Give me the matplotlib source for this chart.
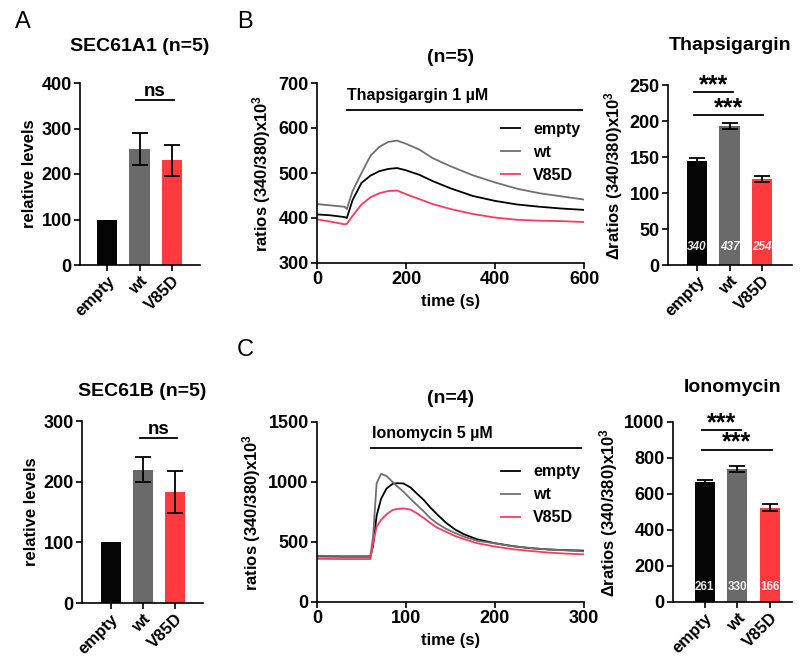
import matplotlib
matplotlib.use('Agg')
import matplotlib.pyplot as plt

plt.rcParams['font.family'] = ['Liberation Sans', 'DejaVu Sans']
plt.rcParams['font.weight'] = 'bold'
plt.rcParams['axes.labelweight'] = 'bold'
plt.rcParams['mathtext.fontset'] = 'custom'
plt.rcParams['mathtext.rm'] = 'Liberation Sans:bold'
plt.rcParams['mathtext.bf'] = 'Liberation Sans:bold'
plt.rcParams['mathtext.default'] = 'bf'

groups = ['empty', 'wt', 'V85D']
bar_colors = ['#050505', '#6a6a6a', '#ff3a3f']
trace_colors = ['#000000', '#707070', '#ff3a5c']

# SEC61A1 / SEC61B relative levels (empty = 100, no error)
sec61a1_mean = [100, 255, 230]
sec61a1_err = [0, 36, 34]
sec61b_mean = [100, 220, 183]
sec61b_err = [0, 21, 35]

# thapsigargin traces
t_tg = [0, 30, 62, 67, 80, 100, 120, 140, 160, 180, 200, 230, 260, 300, 350, 400, 450, 500, 550, 600]
tg_empty = [408, 406, 402, 400, 440, 478, 494, 504, 509, 511, 506, 496, 482, 466, 449, 438, 430, 425, 421, 418]
tg_wt = [431, 428, 425, 420, 460, 500, 538, 558, 569, 572, 565, 552, 533, 515, 495, 479, 465, 455, 448, 441]
tg_v85d = [397, 392, 386, 387, 405, 430, 446, 455, 460, 461, 453, 442, 431, 420, 409, 401, 396, 394, 393, 391]

# ionomycin traces
t_io = [0, 30, 60, 63, 67, 72, 78, 85, 90, 97, 105, 112, 120, 127, 135, 145, 155, 165, 180, 200, 220, 240, 260, 280, 300]
io_empty = [380, 378, 378, 470, 720, 860, 945, 985, 990, 988, 955, 905, 850, 790, 730, 660, 605, 565, 522, 490, 465, 448, 438, 432, 428]
io_wt = [385, 383, 383, 545, 990, 1068, 1050, 1000, 965, 920, 860, 810, 755, 700, 655, 610, 575, 545, 510, 488, 465, 450, 438, 430, 422]
io_v85d = [360, 358, 358, 490, 628, 684, 730, 767, 775, 780, 770, 740, 700, 660, 620, 585, 550, 525, 490, 462, 440, 425, 412, 403, 397]

# delta ratios (bar charts)
tg_delta = [145, 193, 119]
tg_delta_err = [3, 4, 4]
tg_cells = ['340', '437', '254']
io_delta = [665, 740, 525]
io_delta_err = [12, 15, 20]
io_cells = ['261', '330', '166']

W, H = 800, 657
fig = plt.figure(figsize=(W / 100, H / 100), dpi=100)


def new_axes(left, right, top, bottom):
    ax = fig.add_axes([left / W, 1 - bottom / H, (right - left) / W, (bottom - top) / H])
    ax.spines['top'].set_visible(False)
    ax.spines['right'].set_visible(False)
    ax.spines['left'].set_linewidth(1.2)
    ax.spines['bottom'].set_linewidth(1.2)
    ax.tick_params(width=1.2, length=4, labelsize=13, pad=2)
    return ax


def bar_panel(ax, means, errs, xlim, ylim, yticks, ylabel):
    x = list(range(len(groups)))
    ax.bar(x, means, width=0.62, color=bar_colors)
    ex = [i for i in x if errs[i] > 0]
    ax.errorbar(ex, [means[i] for i in ex], yerr=[errs[i] for i in ex], fmt='none',
                ecolor='black', elinewidth=1.3, capsize=6, capthick=1.3)
    ax.set_xlim(*xlim)
    ax.set_ylim(*ylim)
    ax.set_yticks(yticks)
    ax.set_xticks(x)
    ax.set_xticklabels(groups, rotation=45, ha='right', rotation_mode='anchor', fontsize=12)
    ax.set_ylabel(ylabel, fontsize=12, labelpad=3)


def sig(ax, x0, x1, y, label):
    ax.plot([x0, x1], [y, y], color='black', lw=1.3, clip_on=False)
    if label == 'ns':
        ax.text((x0 + x1) / 2, y, label, ha='center', va='bottom', fontsize=13.5, fontweight='bold')
    else:
        ax.annotate(label, xy=((x0 + x1) / 2, y), xytext=(0, 0), textcoords='offset points',
                    ha='center', va='baseline', fontsize=18, fontweight='bold')


# A top
ax1 = new_axes(80, 200, 83, 265)
bar_panel(ax1, sec61a1_mean, sec61a1_err, (-0.83, 2.86), (0, 400), range(0, 401, 100), 'relative levels')
sig(ax1, 0.9, 2.06, 362, 'ns')
ax1.text(0.5, 1.2, 'SEC61A1 (n=5)', transform=ax1.transAxes, ha='center', va='center', fontsize=14)

# A bottom
ax2 = new_axes(82, 203, 421, 603)
bar_panel(ax2, sec61b_mean, sec61b_err, (-0.9, 2.87), (0, 300), range(0, 301, 100), 'relative levels')
sig(ax2, 0.9, 2.06, 272, 'ns')
ax2.text(0.5, 1.16, 'SEC61B (n=5)', transform=ax2.transAxes, ha='center', va='center', fontsize=14)

ratio_label = 'ratios (340/380)x10$^{3}$'

# B middle: thapsigargin traces
ax3 = new_axes(317, 584, 83, 263)
ax3.plot(t_tg, tg_empty, color=trace_colors[0], lw=1.3, label='empty')
ax3.plot(t_tg, tg_wt, color=trace_colors[1], lw=1.3, label='wt')
ax3.plot(t_tg, tg_v85d, color=trace_colors[2], lw=1.3, label='V85D')
ax3.set_xlim(0, 600)
ax3.set_ylim(300, 700)
ax3.set_xticks(range(0, 601, 200))
ax3.set_yticks(range(300, 701, 100))
ax3.set_xlabel('time (s)', fontsize=12)
ax3.set_ylabel(ratio_label, fontsize=12)
ax3.plot([67, 595], [640, 640], color='black', lw=1.3)
ax3.text(67, 673, 'Thapsigargin 1 µM', ha='left', va='center', fontsize=11.5)
ax3.legend(frameon=False, loc='upper left', bbox_to_anchor=(0.665, 0.82), fontsize=11.5,
           handlelength=1.2, labelspacing=0.5, handletextpad=0.8, borderaxespad=0)
ax3.text(0.5, 1.139, '(n=5)', transform=ax3.transAxes, ha='center', va='center', fontsize=14)

# B right: thapsigargin delta
ax4 = new_axes(668, 792, 85, 265)
bar_panel(ax4, tg_delta, tg_delta_err, (-0.89, 2.92), (0, 250), range(0, 251, 50), 'Δ' + ratio_label)
for i, n in enumerate(tg_cells):
    ax4.text(i, 25, n, color='white', ha='center', va='center', fontsize=8.5, style='italic', alpha=0.9)
sig(ax4, -0.08, 1.1, 240, '***')
sig(ax4, -0.08, 2.03, 208, '***')
ax4.text(0.5, 1.222, 'Thapsigargin', transform=ax4.transAxes, ha='center', va='center', fontsize=14)

# C middle: ionomycin traces
ax5 = new_axes(317, 584, 422, 602)
ax5.plot(t_io, io_empty, color=trace_colors[0], lw=1.3, label='empty')
ax5.plot(t_io, io_wt, color=trace_colors[1], lw=1.3, label='wt')
ax5.plot(t_io, io_v85d, color=trace_colors[2], lw=1.3, label='V85D')
ax5.set_xlim(0, 300)
ax5.set_ylim(0, 1500)
ax5.set_xticks(range(0, 301, 100))
ax5.set_yticks(range(0, 1501, 500))
ax5.set_xlabel('time (s)', fontsize=12)
ax5.set_ylabel(ratio_label, fontsize=12)
ax5.plot([61, 297], [1284, 1284], color='black', lw=1.3)
ax5.text(62, 1403, 'Ionomycin 5 µM', ha='left', va='center', fontsize=11.5)
ax5.legend(frameon=False, loc='upper left', bbox_to_anchor=(0.665, 0.80), fontsize=11.5,
           handlelength=1.2, labelspacing=0.5, handletextpad=0.8, borderaxespad=0)
ax5.text(0.5, 1.133, '(n=4)', transform=ax5.transAxes, ha='center', va='center', fontsize=14)

# C right: ionomycin delta
ax6 = new_axes(673, 792, 422, 602)
bar_panel(ax6, io_delta, io_delta_err, (-0.98, 2.68), (0, 1000), range(0, 1001, 200), 'Δ' + ratio_label)
for i, n in enumerate(io_cells):
    ax6.text(i, 85, n, color='white', ha='center', va='center', fontsize=8.5, alpha=0.9)
sig(ax6, -0.1, 1.12, 954, '***')
sig(ax6, -0.1, 2.06, 846, '***')
ax6.text(0.5, 1.194, 'Ionomycin', transform=ax6.transAxes, ha='center', va='center', fontsize=14)

# panel letters
fig.text(15 / W, 1 - 22 / H, 'A', fontsize=17, fontweight='normal', va='center')
fig.text(237 / W, 1 - 22 / H, 'B', fontsize=17, fontweight='normal', va='center')
fig.text(237 / W, 1 - 350 / H, 'C', fontsize=17, fontweight='normal', va='center')

fig.savefig('out.png', dpi=100)
